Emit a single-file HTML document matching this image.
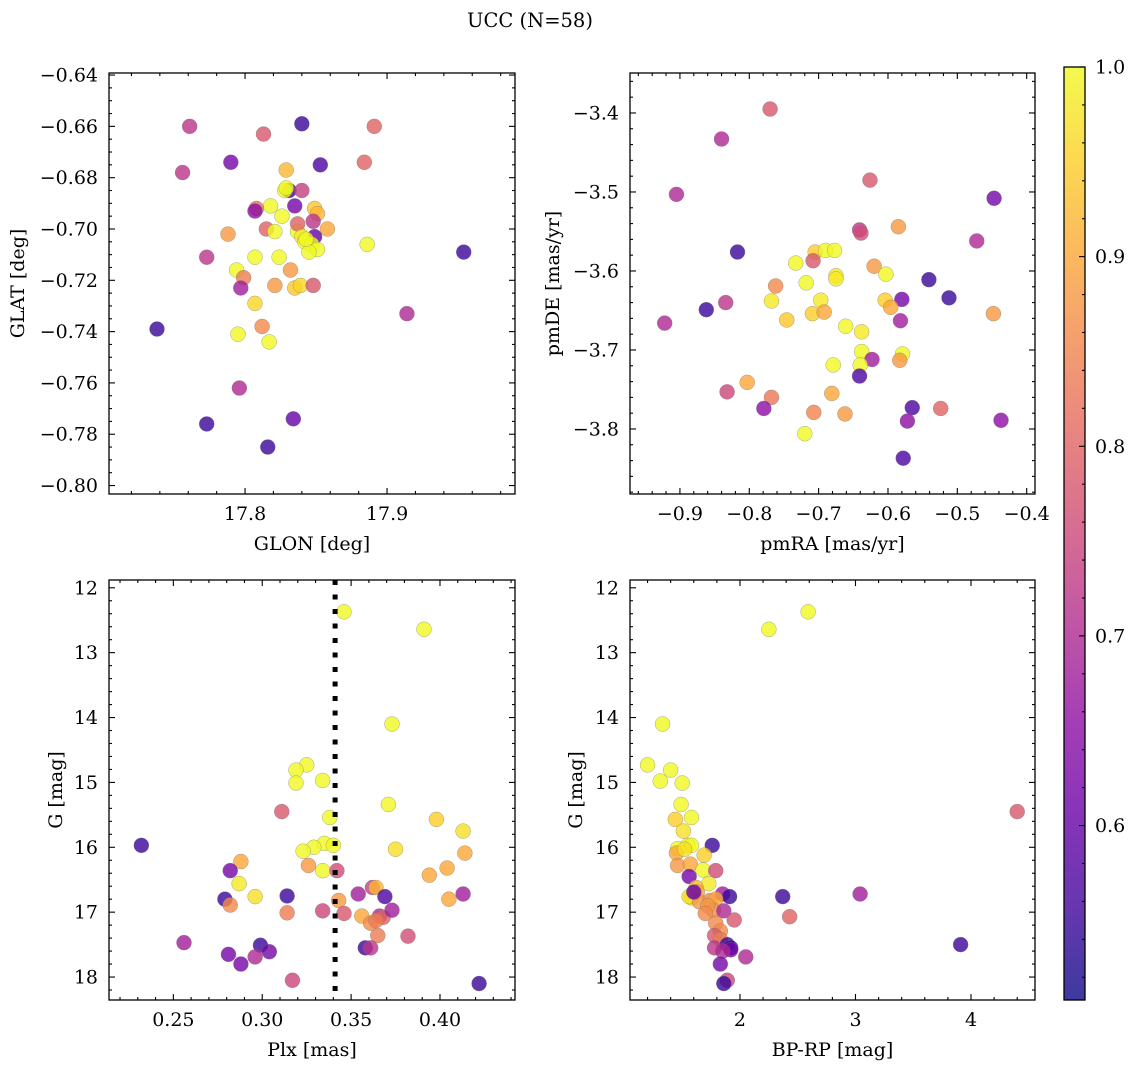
<!DOCTYPE html>
<html><head><meta charset="utf-8"><title>UCC (N=58)</title>
<style>
html,body{margin:0;padding:0;background:#fff;}
svg{display:block;font-family:"DejaVu Serif","Liberation Serif",serif;}
</style></head>
<body>
<svg id="fig" xmlns="http://www.w3.org/2000/svg" width="1136" height="1067" viewBox="0 0 1136 1067">
<rect width="1136" height="1067" fill="#fff"/>
<text x="530" y="27" font-size="19.5" text-anchor="middle">UCC (N=58)</text>
</svg>
<script>
// ---- Panel A: GLON vs GLAT ----
const glon = [17.761,17.813,17.840,17.891,17.756,17.790,17.853,17.884,17.829,17.831,17.828,17.840,17.835,17.849,17.851,17.818,17.808,17.807,17.826,17.848,17.837,17.837,17.858,17.815,17.821,17.849,17.840,17.842,17.847,17.851,17.845,17.788,17.886,17.773,17.954,17.807,17.794,17.832,17.799,17.824,17.797,17.821,17.835,17.839,17.848,17.807,17.795,17.812,17.817,17.914,17.738,17.796,17.773,17.834,17.816,17.829,17.843];
const glat = [-0.660,-0.663,-0.659,-0.660,-0.678,-0.674,-0.675,-0.674,-0.677,-0.685,-0.685,-0.685,-0.691,-0.692,-0.694,-0.691,-0.692,-0.693,-0.695,-0.697,-0.701,-0.698,-0.700,-0.700,-0.701,-0.703,-0.703,-0.705,-0.706,-0.708,-0.709,-0.702,-0.706,-0.711,-0.709,-0.711,-0.716,-0.716,-0.719,-0.711,-0.723,-0.722,-0.723,-0.722,-0.722,-0.729,-0.741,-0.738,-0.744,-0.733,-0.739,-0.762,-0.776,-0.774,-0.785,-0.684,-0.704];
const probA = [0.72,0.78,0.55,0.80,0.72,0.62,0.57,0.80,0.92,0.55,1.00,0.74,0.62,0.94,0.92,1.00,0.82,0.65,1.00,0.72,1.00,0.80,0.90,0.80,1.00,0.60,0.98,1.00,1.00,1.00,1.00,0.88,1.00,0.72,0.55,1.00,1.00,0.88,0.84,1.00,0.68,0.88,0.94,0.96,0.78,0.96,1.00,0.86,1.00,0.70,0.55,0.70,0.55,0.60,0.55,1.00,1.00];
// ---- Panel B: pmRA vs pmDE ----
const pmra = [-0.770,-0.840,-0.905,-0.626,-0.447,-0.585,-0.472,-0.641,-0.639,-0.817,-0.705,-0.690,-0.677,-0.708,-0.733,-0.620,-0.603,-0.675,-0.675,-0.718,-0.541,-0.512,-0.580,-0.762,-0.834,-0.862,-0.697,-0.604,-0.596,-0.709,-0.692,-0.448,-0.768,-0.746,-0.661,-0.582,-0.638,-0.922,-0.579,-0.583,-0.638,-0.623,-0.640,-0.679,-0.641,-0.803,-0.681,-0.565,-0.524,-0.768,-0.779,-0.832,-0.707,-0.662,-0.572,-0.437,-0.720,-0.578];
const pmde = [-3.395,-3.433,-3.503,-3.485,-3.508,-3.544,-3.562,-3.548,-3.552,-3.576,-3.576,-3.574,-3.574,-3.587,-3.590,-3.594,-3.604,-3.606,-3.610,-3.615,-3.611,-3.634,-3.636,-3.619,-3.640,-3.649,-3.637,-3.637,-3.646,-3.654,-3.652,-3.654,-3.638,-3.662,-3.670,-3.663,-3.677,-3.666,-3.705,-3.713,-3.702,-3.712,-3.719,-3.719,-3.733,-3.741,-3.755,-3.773,-3.774,-3.760,-3.774,-3.753,-3.779,-3.781,-3.790,-3.789,-3.806,-3.837];
const probB = [0.78,0.70,0.70,0.78,0.62,0.88,0.70,0.72,0.76,0.55,0.95,1.00,1.00,0.78,1.00,0.88,1.00,0.98,0.98,1.00,0.55,0.55,0.62,0.86,0.72,0.55,0.98,0.95,0.90,0.95,0.90,0.88,0.98,0.94,1.00,0.68,0.98,0.70,1.00,0.88,1.00,0.68,1.00,1.00,0.57,0.90,0.90,0.57,0.80,0.83,0.65,0.75,0.85,0.88,0.65,0.65,1.00,0.57];
// ---- Panel C: Plx vs G ----
const plx = [0.346,0.391,0.373,0.325,0.319,0.319,0.334,0.371,0.311,0.338,0.398,0.413,0.232,0.335,0.340,0.329,0.323,0.375,0.414,0.288,0.326,0.334,0.342,0.404,0.394,0.282,0.287,0.296,0.314,0.279,0.282,0.354,0.362,0.364,0.369,0.413,0.405,0.343,0.314,0.334,0.346,0.366,0.356,0.361,0.368,0.364,0.373,0.365,0.382,0.256,0.299,0.281,0.304,0.296,0.288,0.358,0.361,0.317,0.422];
const gmagC = [12.37,12.64,14.10,14.73,14.81,15.01,14.97,15.34,15.45,15.54,15.57,15.75,15.97,15.94,15.97,16.00,16.06,16.03,16.09,16.22,16.28,16.36,16.36,16.32,16.43,16.36,16.56,16.76,16.75,16.80,16.89,16.72,16.62,16.62,16.76,16.72,16.80,16.82,17.01,16.98,17.02,17.06,17.06,17.17,17.08,17.13,16.97,17.36,17.37,17.47,17.51,17.65,17.61,17.69,17.80,17.55,17.55,18.05,18.10];
const probC = [1.00,1.00,1.00,1.00,1.00,1.00,1.00,1.00,0.78,1.00,0.95,0.97,0.55,1.00,1.00,1.00,1.00,0.97,0.90,0.90,0.88,1.00,0.76,0.90,0.90,0.62,0.98,0.97,0.55,0.55,0.86,0.68,0.74,0.92,0.57,0.68,0.90,0.88,0.84,0.75,0.78,0.70,0.90,0.86,0.80,0.84,0.68,0.84,0.76,0.68,0.55,0.62,0.62,0.70,0.62,0.55,0.72,0.75,0.55];
const plxCut = [0.341];
// ---- Panel D: BP-RP vs G ----
const bprp = [2.59,2.25,1.33,1.20,1.31,1.40,1.50,1.49,1.58,1.44,1.51,1.46,1.45,1.55,1.58,1.52,1.76,1.46,1.57,1.68,1.79,1.73,1.56,1.58,1.56,1.62,1.63,1.65,1.74,1.85,1.91,1.79,2.37,3.04,1.77,1.72,1.86,1.70,1.95,2.43,1.79,1.83,1.78,1.83,1.78,1.89,1.92,1.92,1.85,2.05,1.83,3.91,1.89,1.86,4.40,1.69,1.60];
const gmagD = [12.37,12.64,14.10,14.73,14.98,14.81,15.01,15.34,15.54,15.57,15.75,16.02,16.09,15.97,15.97,16.03,15.97,16.28,16.26,16.35,16.36,16.56,16.45,16.78,16.76,16.62,16.69,16.84,16.82,16.72,16.76,16.80,16.76,16.72,16.97,16.90,16.98,17.02,17.12,17.07,17.17,17.29,17.36,17.42,17.55,17.50,17.55,17.58,17.60,17.69,17.80,17.50,18.05,18.10,15.45,16.12,16.69];
const probD = [1.00,1.00,1.00,1.00,1.00,1.00,1.00,1.00,1.00,0.95,0.97,1.00,0.90,1.00,1.00,0.97,0.55,0.88,0.90,1.00,0.76,0.98,0.62,0.97,0.97,0.92,0.90,0.88,0.86,0.68,0.55,0.90,0.55,0.68,0.86,0.88,0.70,0.86,0.78,0.80,0.86,0.86,0.78,0.84,0.72,0.55,0.55,0.62,0.70,0.70,0.62,0.55,0.75,0.55,0.78,0.95,0.60];
// ---- Colorbar ----
const cbTicks = [0.6,0.7,0.8,0.9,1.0];
const cbMin = 0.508, cbMax = 1.0;

const NS = "http://www.w3.org/2000/svg";
const svg = document.getElementById('fig');
function mk(tag, attrs, parent){const e=document.createElementNS(NS,tag);for(const k in attrs)e.setAttribute(k,attrs[k]);(parent||svg).appendChild(e);return e;}

const plasma=[[13,8,135],[65,4,157],[106,0,168],[143,13,164],[177,42,144],[204,71,120],[225,100,98],[242,132,75],[252,166,54],[252,206,37],[240,249,33]];
function cmap(v){let t=(v-cbMin)/(cbMax-cbMin);t=Math.max(0,Math.min(1,t))*10;const i=Math.min(9,Math.floor(t)),f=t-i;const a=plasma[i],b=plasma[i+1];return 'rgb('+a.map((c,k)=>Math.round(c+(b[k]-c)*f)).join(',')+')';}

function fmt(v,d){const s=Math.abs(v).toFixed(d);return (v<-1e-12?'\u2212':'')+s;}
const FS=19;

function panel(o){
  const g=mk('g',{});
  
  
  const sx=v=>o.x0+(v-o.xmin)/(o.xmax-o.xmin)*(o.x1-o.x0);
  const sy=o.yinv? (v=>o.y0+(v-o.ymin)/(o.ymax-o.ymin)*(o.y1-o.y0)) : (v=>o.y1-(v-o.ymin)/(o.ymax-o.ymin)*(o.y1-o.y0));
  const pg=mk('g',{},g);
  for(let i=0;i<o.xs.length;i++){
    const c=mk('circle',{cx:sx(o.xs[i]),cy:sy(o.ys[i]),r:7.5,fill:cmap(o.cs[i]),'fill-opacity':0.8,stroke:'#777','stroke-width':0.4,'stroke-opacity':0.8},pg);
    
    
  }
  if(o.vline){for(const v of o.vline){const l=mk('line',{x1:sx(v),x2:sx(v),y1:o.y0,y2:o.y1,stroke:'#000','stroke-width':5,'stroke-dasharray':'5 9.5'},g);
    
    }}
  const fr=mk('rect',{x:o.x0,y:o.y0,width:o.x1-o.x0,height:o.y1-o.y0,fill:'none',stroke:'#000','stroke-width':1.3},g);
  
  
  const tg=mk('g',{stroke:'#000','stroke-width':1.1},g);
  const eps=1e-9;
  const lo=Math.min(o.xmin,o.xmax),hi=Math.max(o.xmin,o.xmax);
  for(let v=Math.ceil(lo/o.xminor-eps)*o.xminor; v<=hi+eps; v+=o.xminor){
    const X=sx(v);const isMaj=Math.abs(v/o.xmajor-Math.round(v/o.xmajor))<1e-6;const L=isMaj?6:3;
    mk('line',{x1:X,x2:X,y1:o.y1,y2:o.y1-L},tg);mk('line',{x1:X,x2:X,y1:o.y0,y2:o.y0+L},tg);
  }
  const ylo=Math.min(o.ymin,o.ymax),yhi=Math.max(o.ymin,o.ymax);
  for(let v=Math.ceil(ylo/o.yminor-eps)*o.yminor; v<=yhi+eps; v+=o.yminor){
    const Y=sy(v);const isMaj=Math.abs(v/o.ymajor-Math.round(v/o.ymajor))<1e-6;const L=isMaj?6:3;
    mk('line',{x1:o.x0,x2:o.x0+L,y1:Y,y2:Y},tg);mk('line',{x1:o.x1,x2:o.x1-L,y1:Y,y2:Y},tg);
  }
  for(const v of o.xticks){const t=mk('text',{x:sx(v),y:o.y1+26,'font-size':FS,'text-anchor':'middle'},g);t.textContent=o.xfmt(v);
    
    }
  for(const v of o.yticks){const t=mk('text',{x:o.x0-11,y:sy(v)+6.5,'font-size':FS,'text-anchor':'end'},g);t.textContent=o.yfmt(v);
    
    }
  const xl=mk('text',{x:(o.x0+o.x1)/2,y:o.y1+56,'font-size':FS,'text-anchor':'middle'},g);xl.textContent=o.xlabel;
  
  
  const yc=(o.y0+o.y1)/2;
  const yl=mk('text',{x:o.ylx,y:yc,'font-size':FS,'text-anchor':'middle',transform:'rotate(-90 '+o.ylx+' '+yc+')'},g);yl.textContent=o.ylabel;
  
  
}

panel({name:'glon-glat-panel',x0:109,x1:515,y0:73,y1:494,xmin:17.7042,xmax:17.9901,ymin:-0.8033,ymax:-0.6392,
  xs:glon,ys:glat,cs:probA,xmajor:0.1,xminor:0.02,ymajor:0.02,yminor:0.005,
  xticks:[17.8,17.9],yticks:[-0.64,-0.66,-0.68,-0.70,-0.72,-0.74,-0.76,-0.78,-0.80],
  xfmt:v=>v.toFixed(1),yfmt:v=>fmt(v,2),xlabel:'GLON [deg]',ylabel:'GLAT [deg]',ylx:24});
panel({name:'pmra-pmde-panel',x0:630,x1:1035,y0:73,y1:494,xmin:-0.972,xmax:-0.388,ymin:-3.8823,ymax:-3.3494,
  xs:pmra,ys:pmde,cs:probB,xmajor:0.1,xminor:0.02,ymajor:0.1,yminor:0.02,
  xticks:[-0.9,-0.8,-0.7,-0.6,-0.5,-0.4],yticks:[-3.4,-3.5,-3.6,-3.7,-3.8],
  xfmt:v=>fmt(v,1),yfmt:v=>fmt(v,1),xlabel:'pmRA [mas/yr]',ylabel:'pmDE [mas/yr]',ylx:559});
panel({name:'plx-g-panel',x0:109,x1:515,y0:580,y1:1000,xmin:0.2138,xmax:0.4422,ymin:11.88,ymax:18.354,yinv:true,
  xs:plx,ys:gmagC,cs:probC,vline:plxCut,xmajor:0.05,xminor:0.01,ymajor:1,yminor:0.2,
  xticks:[0.25,0.30,0.35,0.40],yticks:[12,13,14,15,16,17,18],
  xfmt:v=>v.toFixed(2),yfmt:v=>v.toFixed(0),xlabel:'Plx [mas]',ylabel:'G [mag]',ylx:62});
panel({name:'bprp-g-panel',x0:630,x1:1035,y0:580,y1:1000,xmin:1.048,xmax:4.554,ymin:11.88,ymax:18.354,yinv:true,
  xs:bprp,ys:gmagD,cs:probD,xmajor:1,xminor:0.2,ymajor:1,yminor:0.2,
  xticks:[2,3,4],yticks:[12,13,14,15,16,17,18],
  xfmt:v=>v.toFixed(0),yfmt:v=>v.toFixed(0),xlabel:'BP-RP [mag]',ylabel:'G [mag]',ylx:582});

(function(){
  const x0=1064,x1=1085,y0=67,y1=1000;
  const defs=mk('defs',{});
  const lg=mk('linearGradient',{id:'cbg',x1:0,y1:1,x2:0,y2:0},defs);
  for(let k=0;k<=20;k++){const v=cbMin+(cbMax-cbMin)*k/20;mk('stop',{offset:(k/20),'stop-color':cmap(v),'stop-opacity':0.8},lg);}
  const g=mk('g',{});
  
  
  mk('rect',{x:x0,y:y0,width:x1-x0,height:y1-y0,fill:'url(#cbg)',stroke:'#000','stroke-width':1.3},g);
  const sy=v=>y1-(v-cbMin)/(cbMax-cbMin)*(y1-y0);
  for(let v=0.52;v<=1.0001;v+=0.02){const Y=sy(v);const maj=Math.abs(v*10-Math.round(v*10))<1e-6;
    mk('line',{x1:x1,x2:x1-(maj?6:3),y1:Y,y2:Y,stroke:'#000','stroke-width':1.1},g);}
  for(const v of cbTicks){const t=mk('text',{x:x1+10,y:sy(v)+6.5,'font-size':FS},g);t.textContent=v.toFixed(1);
    
    }
})();
</script>
</body></html>
